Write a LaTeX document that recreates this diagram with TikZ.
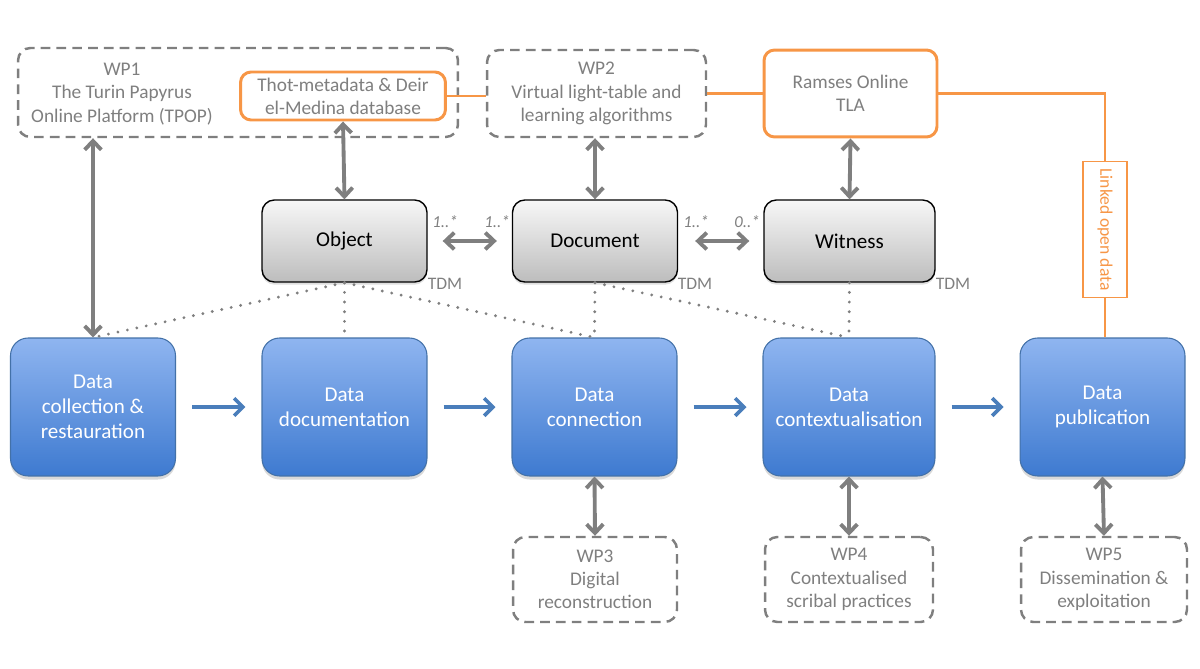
\documentclass[tikz,border=0pt]{standalone}
\usepackage{fontspec}
\setmainfont{Carlito}
\usetikzlibrary{positioning,arrows.meta,shadows}
\definecolor{wpgray}{RGB}{127,127,127}
\definecolor{tlaorange}{RGB}{247,150,70}
\definecolor{flowblue}{RGB}{74,126,187}
\definecolor{bluetop}{RGB}{143,181,240}
\definecolor{bluebot}{RGB}{62,122,208}

\begin{document}
\begin{tikzpicture}[x=0.02cm, y=-0.02cm,
    wpbox/.style={draw=wpgray, line width=1.4pt, dash pattern=on 5.5pt off 3.5pt, rounded corners=7pt, inner sep=0pt},
    wptext/.style={text=wpgray, align=center, font=\fontsize{11}{13.2}\selectfont},
    tlabox/.style={draw=tlaorange, line width=1.7pt, rounded corners=6pt, fill=white, inner sep=0pt},
    tla/.style={draw=tlaorange, line width=1.2pt},
    tdmbox/.style={draw=black, line width=0.8pt, rounded corners=7pt, top color=gray!6, bottom color=gray!52,
        minimum width=3.3cm, minimum height=1.64cm, font=\fontsize{12}{14}\selectfont,
        drop shadow={opacity=0.25, shadow xshift=0pt, shadow yshift=-1.5pt}},
    stepbox/.style={draw=flowblue!90!black, line width=0.6pt, rounded corners=10pt, top color=bluetop, bottom color=bluebot,
        minimum width=3.3cm, minimum height=2.76cm, text=white, align=center, font=\fontsize{12}{14.2}\selectfont,
        drop shadow={opacity=0.3, shadow xshift=0pt, shadow yshift=-2pt}},
    link/.style={draw=wpgray, line width=2.2pt, {Straight Barb[length=5pt,width=9.5pt]}-{Straight Barb[length=5pt,width=9.5pt]}},
    flow/.style={draw=flowblue, line width=2.1pt, -{Straight Barb[length=5pt,width=10pt]}, shorten <=0.32cm, shorten >=0.32cm},
    dots/.style={draw=wpgray, line width=1.8pt, line cap=round, dash pattern=on 0pt off 5.5pt},
    mult/.style={text=wpgray, font=\fontsize{9.5}{11}\selectfont\itshape},
    tdm/.style={text=wpgray, font=\fontsize{10}{11}\selectfont}]

    \useasboundingbox (0,0) rectangle (1200,669);

    % work packages on top
    \node[wpbox, minimum width=8.8cm, minimum height=1.78cm] (wp1) at (238,92.5) {};
    \node[wptext] (wp1txt) at (122,94) {WP1\\The Turin Papyrus\\Online Platform (TPOP)};
    \node[tlabox, wptext, minimum width=4.1cm, minimum height=0.96cm] (thot) at (343,96) {Thot-metadata \& Deir\\el-Medina database};
    \node[wpbox, wptext, minimum width=4.38cm, minimum height=1.74cm] (wp2) at (596.5,93.5) {WP2\\Virtual light-table and\\learning algorithms};
    \node[tlabox, wptext, minimum width=3.46cm, minimum height=1.74cm] (ramses) at (850.5,93.5) {Ramses Online\\TLA};
    \node[draw=tlaorange, line width=0.9pt, fill=white, text=tlaorange, minimum width=0.88cm, minimum height=2.72cm, inner sep=0pt,
        font=\fontsize{10}{12}\selectfont] (lod) at (1105,229.5) {\rotatebox{-90}{Linked open data}};

    % TDM entities
    \node[tdmbox] (obj) at (344.5,241) {Object};
    \node[tdmbox] (doc) at (595,241) {Document};
    \node[tdmbox, minimum width=3.42cm] (wit) at (849.5,241) {Witness};
    \node[tdm] (tdm1) at (445,284) {TDM};
    \node[tdm] (tdm2) at (695,284) {TDM};
    \node[tdm] (tdm3) at (953,284) {TDM};
    \node[mult] (m1) at (445,222) {1..*};
    \node[mult] (m2) at (497,222) {1..*};
    \node[mult] (m3) at (696,222) {1..*};
    \node[mult] (m4) at (747,222) {0..*};

    % data life cycle
    \node[stepbox] (coll) at (93,407) {Data\\collection \&\\restauration};
    \node[stepbox] (docu) at (344.5,407) {Data\\documentation};
    \node[stepbox] (conn) at (594.5,407) {Data\\connection};
    \node[stepbox, minimum width=3.44cm] (ctx) at (849,407) {Data\\contextualisation};
    \node[stepbox] (pub) at (1102.5,407) {Data\\publication};

    % work packages below
    \node[wpbox, wptext, minimum width=3.28cm, minimum height=1.7cm] (wp3) at (595,579.5) {WP3\\Digital\\reconstruction};
    \node[wpbox, wptext, minimum width=3.36cm, minimum height=1.7cm] (wp4) at (849,579.5) {WP4\\Contextualised\\scribal practices};
    \node[wpbox, wptext, minimum width=3.32cm, minimum height=1.7cm] (wp5) at (1104,579.5) {WP5\\Dissemination \&\\exploitation};

    % orange linked data line
    \draw[tla] (thot.east) -- (thot.east -| wp2.west);
    \draw[tla] (wp2.east) -- (ramses.west);
    \draw[tla] (ramses.east) -| (lod.north);
    \draw[tla] (lod.south) -- (lod.south |- pub.north);

    % dotted relations
    \draw[dots] (obj.south) -- (coll.north);
    \draw[dots] (obj.south) -- (docu.north);
    \draw[dots] (obj.south) -- (conn.north);
    \draw[dots] (doc.south) -- (conn.north);
    \draw[dots] (doc.south) -- (ctx.north);
    \draw[dots] (wit.south) -- (ctx.north);

    % grey double arrows
    \draw[link] (coll.north |- wp1.south) -- (coll.north);
    \draw[link] (thot.south) -- (obj.north);
    \draw[link] (doc.north |- wp2.south) -- (doc.north);
    \draw[link] (ramses.south) -- (wit.north);
    \draw[link, shorten <=0.3cm, shorten >=0.3cm] (obj.east) -- (doc.west);
    \draw[link, shorten <=0.34cm, shorten >=0.28cm] (doc.east) -- (wit.west);
    \draw[link] (conn.south) -- (wp3.north);
    \draw[link] (ctx.south) -- (wp4.north);
    \draw[link] (pub.south) -- (wp5.north);

    % blue flow arrows
    \draw[flow] (coll) -- (docu);
    \draw[flow] (docu) -- (conn);
    \draw[flow] (conn) -- (ctx);
    \draw[flow] (ctx) -- (pub);

\end{tikzpicture}
\end{document}
